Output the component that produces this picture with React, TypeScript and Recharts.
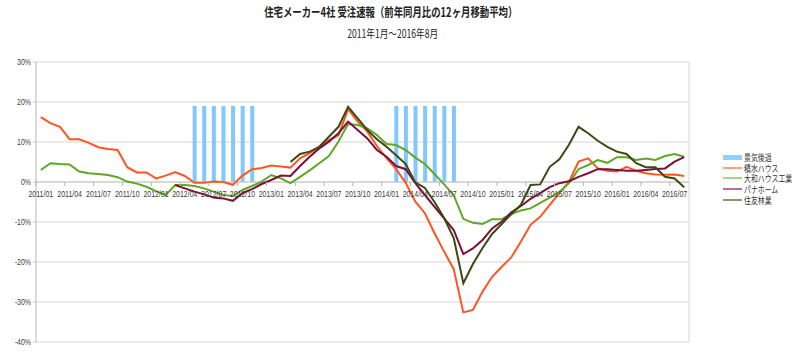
import React from 'react';
import { ComposedChart, Line, Bar, XAxis, YAxis, CartesianGrid, ReferenceLine } from 'recharts';

// 2011/01 - 2016/08, monthly
const months = [
    '2011/01', '2011/02', '2011/03', '2011/04', '2011/05', '2011/06', '2011/07', '2011/08', '2011/09', '2011/10', '2011/11', '2011/12',
    '2012/01', '2012/02', '2012/03', '2012/04', '2012/05', '2012/06', '2012/07', '2012/08', '2012/09', '2012/10', '2012/11', '2012/12',
    '2013/01', '2013/02', '2013/03', '2013/04', '2013/05', '2013/06', '2013/07', '2013/08', '2013/09', '2013/10', '2013/11', '2013/12',
    '2014/01', '2014/02', '2014/03', '2014/04', '2014/05', '2014/06', '2014/07', '2014/08', '2014/09', '2014/10', '2014/11', '2014/12',
    '2015/01', '2015/02', '2015/03', '2015/04', '2015/05', '2015/06', '2015/07', '2015/08', '2015/09', '2015/10', '2015/11', '2015/12',
    '2016/01', '2016/02', '2016/03', '2016/04', '2016/05', '2016/06', '2016/07', '2016/08',
];

const R = 19;
const n = null;
// 景気後退
const recession = [
    n, n, n, n, n, n, n, n, n, n, n, n,
    n, n, n, n, R, R, R, R, R, R, R, n,
    n, n, n, n, n, n, n, n, n, n, n, n,
    n, R, R, R, R, R, R, R, n, n, n, n,
    n, n, n, n, n, n, n, n, n, n, n, n,
    n, n, n, n, n, n, n, n,
];

// 積水ハウス
const sekisui = [
    16.2, 14.7, 13.8, 10.7, 10.7, 9.8, 8.7, 8.25, 8.0, 3.7, 2.4, 2.4,
    0.9, 1.6, 2.5, 1.5, -0.2, -0.2, 0.1, 0.0, -0.7, 1.6, 3.2, 3.5,
    4.1, 3.9, 3.6, 5.9, 7.2, 8.8, 10.5, 11.7, 18.2, 15.1, 12.6, 9.0,
    6.0, 3.2, -0.2, -4.9, -7.8, -12.8, -17.4, -21.8, -32.6, -32.0, -27.4, -23.7,
    -21.2, -18.8, -14.9, -10.7, -8.7, -5.7, -2.8, 0.0, 5.1, 5.9, 3.4, 2.8,
    2.6, 3.8, 2.8, 2.2, 1.9, 1.8, 1.9, 1.5,
];

// 大和ハウス工業
const daiwa = [
    3.0, 4.7, 4.5, 4.4, 2.6, 2.2, 2.0, 1.75, 1.2, 0.1, -0.4, -1.2,
    -2.3, -3.25, -0.75, -0.75, -1.0, -1.6, -2.4, -3.25, -3.5, -2.0, -1.0, 0.1,
    1.75, 0.9, -0.3, 1.3, 2.9, 4.7, 6.5, 10.1, 14.5, 14.25, 13.4, 11.75,
    9.5, 9.25, 8.0, 6.1, 4.5, 2.0, -0.6, -3.3, -9.2, -10.2, -10.5, -9.3,
    -9.3, -8.0, -7.1, -6.6, -5.2, -3.9, -2.5, -0.3, 3.2, 4.25, 5.5, 4.8,
    6.2, 6.2, 5.5, 5.9, 5.5, 6.5, 7.0, 6.3,
];

// パナホーム
const panahome = [
    n, n, n, n, n, n, n, n, n, n, n, n,
    n, n, -0.75, -1.6, -2.4, -3.1, -3.9, -4.1, -4.7, -2.8, -1.8, -0.5,
    0.5, 1.6, 1.5, 4.0, 6.3, 8.4, 10.1, 12.2, 15.1, 13.0, 10.9, 8.0,
    6.3, 4.0, 3.2, -0.3, -3.25, -6.2, -9.1, -12.0, -18.0, -16.6, -14.5, -11.6,
    -9.9, -7.6, -6.0, -4.2, -2.8, -1.3, -0.3, 0.2, 1.3, 2.2, 3.2, 3.2,
    3.0, 2.8, 2.8, 3.0, 3.25, 3.4, 5.1, 6.2,
];

// 住友林業
const sumitomo = [
    n, n, n, n, n, n, n, n, n, n, n, n,
    n, n, n, n, n, n, n, n, n, n, n, n,
    n, n, 5.0, 7.0, 7.6, 8.8, 11.3, 13.8, 18.8, 15.9, 13.0, 10.7,
    8.8, 6.7, 4.5, -0.1, -1.5, -5.0, -9.0, -14.0, -25.3, -20.5, -16.5, -13.0,
    -10.5, -8.0, -5.7, -0.75, -0.6, 3.8, 5.7, 9.3, 13.8, 12.2, 10.3, 8.8,
    7.6, 7.0, 4.7, 3.7, 3.7, 1.3, 0.9, -1.3,
];

const yTicks = [-40, -30, -20, -10, 0, 10, 20, 30];

const data = months.map((m, i) => ({
    month: m,
    recession: recession[i],
    sekisui: sekisui[i],
    daiwa: daiwa[i],
    panahome: panahome[i],
    sumitomo: sumitomo[i],
}));

const series = [
    { key: 'recession', name: '景気後退', color: '#82c8ff', legend: '#8fd0ff', bar: true },
    { key: 'sekisui', name: '積水ハウス', color: '#ff5522', legend: '#ffa07f' },
    { key: 'daiwa', name: '大和ハウス工業', color: '#5ea825', legend: '#a9d38a' },
    { key: 'panahome', name: 'パナホーム', color: '#7d0f3a', legend: '#bb7090' },
    { key: 'sumitomo', name: '住友林業', color: '#3b4a12', legend: '#8e9a72' },
];

const W = 800;
const H = 356;
const X_AXIS_H = 1;
const MARGIN = { top: 62, right: 111, bottom: 14 - X_AXIS_H, left: 0 };
const Y_AXIS_W = 36;
const Y_MIN = -40;
const Y_MAX = 30;
const PLOT_W = W - MARGIN.left - MARGIN.right - Y_AXIS_W;
const PLOT_H = H - MARGIN.top - MARGIN.bottom - X_AXIS_H;
const ZERO_Y = MARGIN.top + (PLOT_H * Y_MAX) / (Y_MAX - Y_MIN);
const BAND = PLOT_W / months.length;
const SQUEEZE = 0.75;
const TICK_FONT = '"Liberation Sans", Arial, sans-serif';
const JP_FONT = '"Noto Sans CJK JP", sans-serif';

// x labels sit on the 0% line, not at the bottom of the plot
const XTick = (props: any) => {
    const { x, payload } = props;
    const edge = x - BAND / 2;
    return (
        <g>
            <line x1={edge} x2={edge} y1={ZERO_Y} y2={ZERO_Y + 4} stroke="#b5b5b5" />
            <text
                transform={`translate(${x} ${ZERO_Y + 14.5}) scale(${SQUEEZE} 1)`}
                textAnchor="middle"
                fontSize={9.3}
                fontFamily={TICK_FONT}
                fill="#3c3c3c"
            >
                {payload.value}
            </text>
        </g>
    );
};

const YTick = (props: any) => {
    const { x, y, payload } = props;
    return (
        <text
            transform={`translate(${x} ${y + 3.3}) scale(${SQUEEZE} 1)`}
            textAnchor="end"
            fontSize={9.3}
            fontFamily={TICK_FONT}
            fill="#3c3c3c"
        >
            {`${payload.value}%`}
        </text>
    );
};

const LegendBox = () => (
    <div style={{ position: 'absolute', left: 723, top: 152, width: 77, fontFamily: JP_FONT, fontSize: 9.2, color: '#333' }}>
        {series.map((s) => (
            <div key={s.key} style={{ display: 'flex', alignItems: 'center', height: 10.6, overflow: 'visible' }}>
                <span style={{ display: 'inline-block', width: 19, height: s.bar ? 5 : 2, background: s.legend, marginRight: 2, flex: 'none' }} />
                <span style={{ display: 'inline-block', whiteSpace: 'nowrap', transform: `scaleX(${SQUEEZE})`, transformOrigin: 'left center', lineHeight: '10px', height: 10 }}>
                    {s.name}
                </span>
            </div>
        ))}
    </div>
);

const App: React.FC = () => {
    return (
        <div style={{ position: 'absolute', left: 0, top: 0, width: W, height: H, background: '#fff' }}>
            <div style={{ position: 'absolute', left: 0, width: W - 18, top: 4, textAlign: 'center', fontFamily: JP_FONT, fontSize: 12.5, fontWeight: 700, color: '#222', lineHeight: '16px' }}>
                <span style={{ display: 'inline-block', transform: `scaleX(${SQUEEZE})`, whiteSpace: 'nowrap' }}>
                    住宅メーカー4社 受注速報（前年同月比の12ヶ月移動平均）
                </span>
            </div>
            <div style={{ position: 'absolute', left: 0, width: W - 14, top: 26, textAlign: 'center', fontFamily: JP_FONT, fontSize: 11.5, color: '#222', lineHeight: '15px' }}>
                <span style={{ display: 'inline-block', transform: `scaleX(${SQUEEZE})`, whiteSpace: 'nowrap' }}>
                    2011年1月～2016年8月
                </span>
            </div>
            <ComposedChart width={W} height={H} data={data} margin={MARGIN} barSize={4}>
                <CartesianGrid
                    stroke="#d6d6d6"
                    verticalPoints={[MARGIN.left + Y_AXIS_W + PLOT_W]}
                />
                <XAxis dataKey="month" height={X_AXIS_H} interval={2} axisLine={false} tickLine={false} tick={<XTick />} />
                <YAxis
                    width={Y_AXIS_W}
                    domain={[Y_MIN, Y_MAX]}
                    ticks={yTicks}
                    interval={0}
                    tickSize={3}
                    tickMargin={2}
                    axisLine={{ stroke: '#b5b5b5' }}
                    tickLine={{ stroke: '#c8c8c8' }}
                    tick={<YTick />}
                />
                <ReferenceLine y={0} stroke="#c4c4c4" />
                <Bar dataKey="recession" name="景気後退" fill="#82c8ff" isAnimationActive={false} />
                {series.filter((s) => !s.bar).map((s) => (
                    <Line
                        key={s.key}
                        type="linear"
                        dataKey={s.key}
                        name={s.name}
                        stroke={s.color}
                        strokeWidth={2}
                        dot={false}
                        activeDot={false}
                        isAnimationActive={false}
                    />
                ))}
            </ComposedChart>
            <LegendBox />
        </div>
    );
};

export default App;
